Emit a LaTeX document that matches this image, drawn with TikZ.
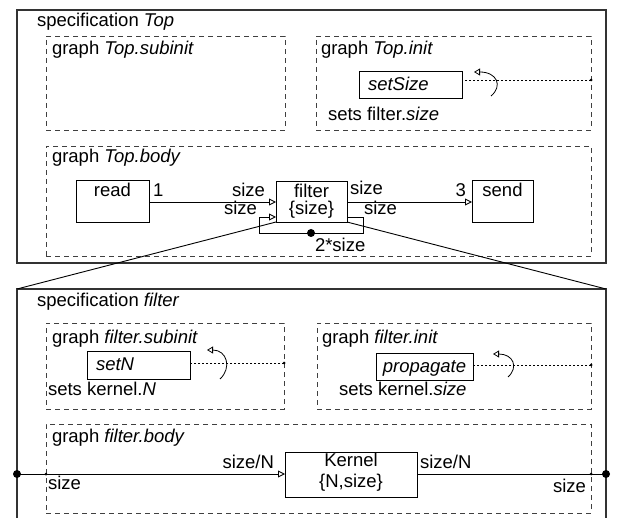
\documentclass[tikz,border=0pt]{standalone}
\usepackage{fontspec}
\setmainfont{Liberation Sans}
\usetikzlibrary{arrows.meta}
\begin{document}
\begin{tikzpicture}[x=1pt,y=-1pt,
  every node/.style={font=\fontsize{18.5}{20}\selectfont, inner sep=0pt, outer sep=0pt},
  frame/.style={draw=black!80, line width=1.1pt},
  grp/.style={draw=black!75, line width=0.9pt, dash pattern=on 5pt off 4pt},
  blk/.style={draw=black, line width=0.9pt},
  conn/.style={draw=black, line width=0.9pt},
  oarr/.style={-{Triangle[open,length=7pt,width=7pt]}},
  rarr/.style={draw=black, line width=0.8pt, -{Triangle[open,length=6pt,width=7pt]}},
  dotl/.style={draw=black, line width=0.8pt, dash pattern=on 2pt off 2pt},
  lbl/.style={anchor=base west},
  lblr/.style={anchor=base east},
  lblc/.style={anchor=base},
]
\path[use as bounding box] (0,0) rectangle (620,518);
\clip (0,0) rectangle (620,518);

% ---------- specification Top ----------
\node[frame, anchor=north west, minimum width=589pt, minimum height=253pt] (topspec) at (17,10) {};
\node[lbl] (topspect) at (37,27) {specification \textit{Top}};

\node[grp, anchor=north west, minimum width=239pt, minimum height=94pt] (topsub) at (46,36) {};
\node[lbl] (topsubt) at (52,55) {graph \textit{Top.subinit}};

\node[grp, anchor=north west, minimum width=275pt, minimum height=94pt] (topinit) at (316,36) {};
\node[lbl] (topinitt) at (321,55) {graph \textit{Top.init}};
\node[blk, anchor=north west, minimum width=103pt, minimum height=27pt] (setsize) at (359,71) {};
\node[lbl] (setsizet) at (368,91) {\textit{setSize}};
\coordinate (topinitin) at (591,80);
\draw[dotl] (topinitin) -- (setsize.east |- topinitin);
\fill (topinitin) circle (1.5pt);
\draw[rarr] (491,96) .. controls (503,86) and (497,72) .. (474,72);
\node[lbl] (setsfilt) at (328,121) {sets filter.\textit{size}};

\node[grp, anchor=north west, minimum width=545pt, minimum height=110pt] (topbody) at (46,146) {};
\node[lbl] (topbodyt) at (52,163) {graph \textit{Top.body}};

\node[blk, anchor=north west, minimum width=73pt, minimum height=42pt] (read) at (76,180) {};
\node[lblc] (readt) at (112.5,197) {read};
\node[blk, anchor=north west, minimum width=71pt, minimum height=41pt] (filter) at (276,181) {};
\node[lblc] (filtert1) at (311.5,198) {filter};
\node[lblc] (filtert2) at (311.5,215) {\{size\}};
\node[blk, anchor=north west, minimum width=61pt, minimum height=42pt] (send) at (472,180) {};
\node[lblc] (sendt) at (502.5,197) {send};

\coordinate (ya) at (0,202);
\coordinate (yb) at (0,217);
\draw[conn, oarr] (read.east |- ya) -- (filter.west |- ya);
\draw[conn, oarr] (filter.east |- ya) -- (send.west |- ya);
\coordinate (lp1) at (363,217);
\coordinate (lp2) at (363,233);
\coordinate (lp3) at (259,233);
\coordinate (lp4) at (259,217);
\coordinate (lpdot) at (311,233);
\draw[conn, oarr] (filter.east |- yb) -- (lp1) -- (lp2) -- (lp3) -- (lp4) -- (filter.west |- yb);
\fill (lpdot) circle (4pt);

\node[lbl] (l1) at (153,197) {1};
\node[lblr] (lsize1) at (265,197) {size};
\node[lblr] (lsize2) at (257,215) {size};
\node[lbl] (lsize3) at (350,195) {size};
\node[lbl] (lsize4) at (364,215) {size};
\node[lblr] (l3) at (466,197) {3};
\node[lbl] (l2size) at (315,252) {2*size};

% ---------- specification filter ----------
\node[frame, anchor=north west, minimum width=589pt, minimum height=260pt] (filspec) at (17,289) {};
\node[lbl] (filspect) at (37,306) {specification \textit{filter}};

\draw[conn] (filter.south west) -- (filspec.north west);
\draw[conn] (filter.south east) -- (filspec.north east);

\node[grp, anchor=north west, minimum width=238pt, minimum height=86pt] (filsub) at (46,323) {};
\node[lbl] (filsubt) at (52,343) {graph \textit{filter.subinit}};
\node[blk, anchor=north west, minimum width=103pt, minimum height=28pt] (setn) at (87,351) {};
\node[lbl] (setnt) at (96,370) {\textit{setN}};
\coordinate (filsubin) at (284,363);
\draw[dotl] (filsubin) -- (setn.east |- filsubin);
\fill (filsubin) circle (1.5pt);
\draw[rarr] (220,379) .. controls (232,368) and (227,350) .. (207,350);
\node[lbl] (setskn) at (48,395) {sets kernel.\textit{N}};

\node[grp, anchor=north west, minimum width=274pt, minimum height=86pt] (filinit) at (317,323) {};
\node[lbl] (filinitt) at (322,343) {graph \textit{filter.init}};
\node[blk, anchor=north west, minimum width=97pt, minimum height=27pt] (prop) at (376,353) {};
\node[lblc] (propt) at (424.5,372) {\textit{propagate}};
\coordinate (filinitin) at (591,365);
\draw[dotl] (filinitin) -- (prop.east |- filinitin);
\fill (filinitin) circle (1.5pt);
\draw[rarr] (508,377) .. controls (519,367) and (513,354) .. (493,354);
\node[lbl] (setsks) at (339,395) {sets kernel.\textit{size}};

\node[grp, anchor=north west, minimum width=545pt, minimum height=89pt] (filbody) at (46,424) {};
\node[lbl] (filbodyt) at (52,442) {graph \textit{filter.body}};
\node[blk, anchor=north west, minimum width=132pt, minimum height=45pt] (kernel) at (285,452) {};
\node[lblc] (kernelt1) at (351,466) {Kernel};
\node[lblc] (kernelt2) at (351,487) {\{N,size\}};

\coordinate (fin) at (17,474);
\coordinate (fout) at (606,474);
\coordinate (finb) at (46,474);
\coordinate (foutb) at (591,474);
\draw[conn, oarr] (fin) -- (kernel.west |- fin);
\draw[conn] (kernel.east |- fout) -- (fout);
\fill (fin) circle (4pt);
\fill (fout) circle (4pt);
\fill (finb) circle (1.5pt);
\fill (foutb) circle (1.5pt);

\node[lbl] (ksize1) at (48,489) {size};
\node[lblr] (ksizen1) at (274,468) {size/N};
\node[lbl] (ksizen2) at (420,468) {size/N};
\node[lblr] (ksize2) at (586,492) {size};
\end{tikzpicture}
\end{document}
